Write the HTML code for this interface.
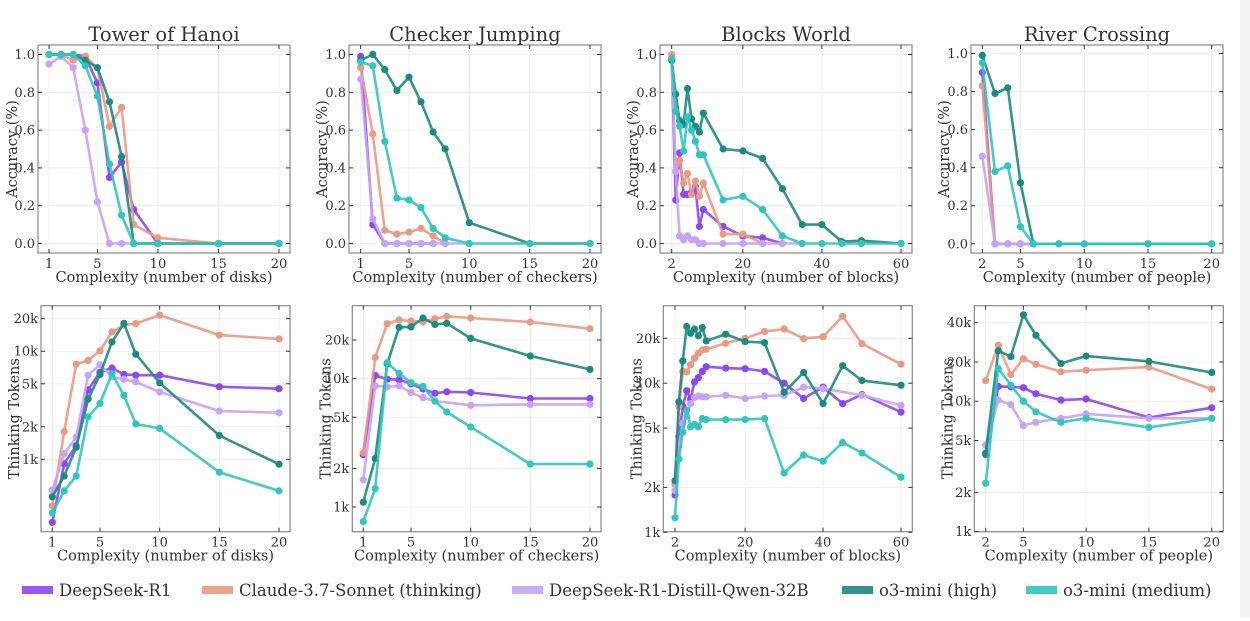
<!DOCTYPE html>
<html><head><meta charset="utf-8">
<style>
body{margin:0;background:#fff;width:1250px;height:617px;overflow:hidden;font-family:"DejaVu Serif","Liberation Serif",serif;}
svg text{font-family:"DejaVu Serif","Liberation Serif",serif;fill:#333;}
</style></head>
<body>
<svg id="chart" width="1250" height="617" xmlns="http://www.w3.org/2000/svg">
<rect x="1240" y="0" width="10" height="617" fill="#f2f2f2"/>
</svg>
<script>
const seriesNames = ["DeepSeek-R1","Claude-3.7-Sonnet (thinking)","DeepSeek-R1-Distill-Qwen-32B","o3-mini (high)","o3-mini (medium)"];
const seriesColors = ["#8d45f5","#eb9980","#c6a3f7","#1b8a80","#2ec6bf"];
const seriesKeys = ["r1","claude","distill","o3high","o3med"];

// x categories
const hanoiX = [1,2,3,4,5,6,7,8,10,15,20];
const checkerX = [1,2,3,4,5,6,7,8,10,15,20];
const blocksX = [2,3,4,5,6,7,8,9,10,15,20,25,30,35,40,45,50,60];
const riverX = [2,3,4,5,6,8,10,15,20];

// accuracy
const hanoiAccR1 = [1,1,1,0.99,0.85,0.35,0.43,0.18,0,0,0];
const hanoiAccClaude = [1,1,0.97,0.99,0.93,0.62,0.72,0.10,0.03,0,0];
const hanoiAccDistill = [0.95,0.99,0.93,0.60,0.22,0,0,0,0,0,0];
const hanoiAccO3High = [1,1,1,0.97,0.93,0.75,0.46,0,0,0,0];
const hanoiAccO3Med = [1,1,1,0.94,0.78,0.42,0.15,0,0,0,0];

const checkerAccR1 = [0.99,0.10,0,0,0,0,0,null,null,null,null];
const checkerAccClaude = [0.93,0.58,0.07,0.05,0.06,0.08,0.04,0,null,null,null];
const checkerAccDistill = [0.87,0.13,0,0,0,0,0,0,0,null,null];
const checkerAccO3High = [0.97,1.0,0.92,0.81,0.88,0.75,0.59,0.50,0.11,0,0];
const checkerAccO3Med = [0.96,0.94,0.54,0.24,0.23,0.19,0.08,0.03,0,0,0];

const blocksAccR1 = [0.97,0.23,0.48,0.26,0.26,0.27,0.30,0.09,0.18,0.09,0.04,0.03,0,null,null,null,null,null];
const blocksAccClaude = [1.0,0.38,0.44,0.32,0.37,0.26,0.33,0.25,0.32,0.05,0.05,0,null,null,null,null,null,null];
const blocksAccDistill = [0.97,0.38,0.04,0.02,0.04,0.02,0.02,0,0,0,0,0,0,0,null,null,null,null];
const blocksAccO3High = [0.97,0.79,0.65,0.63,0.82,0.66,0.62,0.59,0.69,0.50,0.49,0.45,0.29,0.10,0.10,0.01,0.015,0];
const blocksAccO3Med = [0.98,0.70,0.62,0.49,0.67,0.60,0.54,0.47,0.47,0.23,0.25,0.18,0.04,0,0,0,0,0];

const riverAccR1 = [0.90,0,0,0,0,null,null,null,null];
const riverAccClaude = [0.83,0,0,0,0,null,null,null,null];
const riverAccDistill = [0.46,0,0,0,0,null,null,null,null];
const riverAccO3High = [0.99,0.79,0.82,0.32,0,0,0,0,0];
const riverAccO3Med = [0.95,0.38,0.41,0.09,0,0,0,0,0];

// thinking tokens
const hanoiTokR1 = [261,910,1340,4400,6400,7000,6100,6000,6000,4700,4500];
const hanoiTokClaude = [372,1810,7600,8200,10100,15100,17500,18000,21600,14100,13000];
const hanoiTokDistill = [520,1130,1600,6000,7500,5800,5500,5200,4200,2800,2700];
const hanoiTokO3High = [450,700,1290,3600,6100,12200,18100,9400,5100,1660,900];
const hanoiTokO3Med = [320,510,700,2470,3300,6200,3900,2120,1930,760,510];

const checkerTokR1 = [2560,10600,9900,9800,9100,8300,7700,7900,7800,7000,7000];
const checkerTokClaude = [2650,14600,26800,28700,28100,27600,29300,30600,29700,27600,24500];
const checkerTokDistill = [1630,8800,8600,8800,7800,7100,6700,null,6200,6300,6300];
const checkerTokO3High = [1090,2390,13000,25100,25300,29700,26400,27000,20600,15000,11800];
const checkerTokO3Med = [770,1390,13300,11000,9300,8700,6700,5500,4200,2160,2160];

const blocksTokR1 = [1780,4400,7000,8900,7800,10200,10900,12000,12900,12600,12500,12000,10000,7900,9400,7300,8400,6400];
const blocksTokClaude = [2100,7000,12000,11900,13300,14700,15900,16700,16900,18500,20000,22200,23100,19900,20500,28100,18400,13400];
const blocksTokDistill = [1900,3800,5400,6000,7300,8000,8200,8100,8100,8300,7900,8200,8300,9400,9200,null,8300,7100];
const blocksTokO3High = [2220,7500,14100,24000,21600,23100,20800,23600,19200,21300,19000,18700,8700,11800,7300,13100,10400,9700];
const blocksTokO3Med = [1250,3100,4700,6600,5100,5300,5100,5800,5700,5700,5700,5800,2500,3300,3000,4000,3400,2340];

const riverTokR1 = [3900,13000,12900,12700,11400,10200,10400,7500,8900];
const riverTokClaude = [14400,26900,16000,21200,19200,16800,17300,18300,12400];
const riverTokDistill = [4600,10200,9400,6500,6900,7400,8000,7400,7400];
const riverTokO3High = [4000,24400,22000,46000,32000,19500,22200,20200,16600];
const riverTokO3Med = [2350,17800,13300,10000,8300,6900,7400,6300,7400];

const accTicks = [0,0.2,0.4,0.6,0.8,1.0];
const accTickLabels = ["0.0","0.2","0.4","0.6","0.8","1.0"];
const tokTicks = [1000,2000,5000,10000,20000];
const tokTickLabels = ["1k","2k","5k","10k","20k"];
const riverTokTicks = [1000,2000,5000,10000,20000,40000];
const riverTokTickLabels = ["1k","2k","5k","10k","20k","40k"];

const svg = document.getElementById('chart');
const NS = "http://www.w3.org/2000/svg";
function mk(tag, attrs, parent){const e=document.createElementNS(NS,tag);for(const k in attrs)e.setAttribute(k,attrs[k]);(parent||svg).appendChild(e);return e;}

function linScale(d0,d1,r0,r1){return v=>r0+(v-d0)*(r1-r0)/(d1-d0);}
function logScale(d0,d1,r0,r1){const a=Math.log10(d0),b=Math.log10(d1);return v=>r0+(Math.log10(v)-a)*(r1-r0)/(b-a);}

function drawPanel(p){
  const g = mk('g',{});
  
  
  p.xTicks.forEach(t=>{const x=p.sx(t);const l=mk('line',{x1:x,x2:x,y1:p.top,y2:p.bottom,stroke:'#ececec','stroke-width':0.8},g);
    });
  p.yTicks.forEach(t=>{const y=p.sy(t);if(y<p.top-0.5||y>p.bottom+0.5)return;const l=mk('line',{x1:p.left,x2:p.right,y1:y,y2:y,stroke:'#ececec','stroke-width':0.8},g);
    });
  p.series.forEach((vals,si)=>{
    const sg = mk('g',{},g);
    
    
    let d='';let pen=false;
    vals.forEach((v,i)=>{ if(v===null||v===undefined){return;} const x=p.sx(p.xs[i]),y=p.sy(v); d+=(pen?'L':'M')+x.toFixed(1)+' '+y.toFixed(1)+' '; pen=true;});
    const path=mk('path',{d:d,fill:'none',stroke:seriesColors[si],'stroke-width':2.6,'stroke-opacity':0.9,'stroke-linejoin':'round'},sg);
    
    
    vals.forEach((v,i)=>{ if(v===null||v===undefined)return;
      const c=mk('circle',{cx:p.sx(p.xs[i]).toFixed(1),cy:p.sy(v).toFixed(1),r:3.6,fill:seriesColors[si]},sg);
      
      });
  });
  const fr=mk('rect',{x:p.left,y:p.top,width:p.right-p.left,height:p.bottom-p.top,fill:'none',stroke:'#888','stroke-width':1.2},g);
  
  p.xTicks.forEach((t,i)=>{const x=p.sx(t);
    mk('line',{x1:x,x2:x,y1:p.bottom,y2:p.bottom-4,stroke:'#333'},g);
    mk('line',{x1:x,x2:x,y1:p.top,y2:p.top+4,stroke:'#333'},g);
    const tx=mk('text',{x:x,y:p.bottom+15,'text-anchor':'middle','font-size':13},g);tx.textContent=p.xTicks[i];
    });
  p.yTicks.forEach((t,i)=>{const y=p.sy(t);
    mk('line',{x1:p.left,x2:p.left+4,y1:y,y2:y,stroke:'#333'},g);
    mk('line',{x1:p.right,x2:p.right-4,y1:y,y2:y,stroke:'#333'},g);
    const tx=mk('text',{x:p.left-3,y:y+4.5,'text-anchor':'end','font-size':13},g);tx.textContent=p.yLabels[i];
    });
  const xl=mk('text',{x:(p.left+p.right)/2,y:p.bottom+29,'text-anchor':'middle','font-size':14.5},g);xl.textContent=p.xlabel;
  
  const ylx=Math.max(p.left-22,17), yly=(p.top+p.bottom)/2;
  const yl=mk('text',{x:ylx,y:yly,'text-anchor':'middle','font-size':14.5,transform:`rotate(-90 ${ylx} ${yly})`},g);yl.textContent=p.ylabel;
  
  if(p.title){const tt=mk('text',{x:(p.left+p.right)/2,y:41,'text-anchor':'middle','font-size':19.5},g);tt.textContent=p.title;
    }
}

const T=45,B=253;
const panels=[
 {name:'hanoi-accuracy',title:'Tower of Hanoi',left:38,right:290,top:T,bottom:B,sx:linScale(1,20,49,279),sy:linScale(0,1,243.5,54.5),xs:hanoiX,
  series:[hanoiAccR1,hanoiAccClaude,hanoiAccDistill,hanoiAccO3High,hanoiAccO3Med],xTicks:[1,5,10,15,20],yTicks:accTicks,yLabels:accTickLabels,xlabel:'Complexity (number of disks)',ylabel:'Accuracy (%)'},
 {name:'checker-accuracy',title:'Checker Jumping',left:349,right:601,top:T,bottom:B,sx:linScale(1,20,360.7,590),sy:linScale(0,1,243.5,54.5),xs:checkerX,
  series:[checkerAccR1,checkerAccClaude,checkerAccDistill,checkerAccO3High,checkerAccO3Med],xTicks:[1,5,10,15,20],yTicks:accTicks,yLabels:accTickLabels,xlabel:'Complexity (number of checkers)',ylabel:'Accuracy (%)'},
 {name:'blocks-accuracy',title:'Blocks World',left:660,right:912,top:T,bottom:B,sx:linScale(2,60,671.7,901),sy:linScale(0,1,243.5,54.5),xs:blocksX,
  series:[blocksAccR1,blocksAccClaude,blocksAccDistill,blocksAccO3High,blocksAccO3Med],xTicks:[2,20,40,60],yTicks:accTicks,yLabels:accTickLabels,xlabel:'Complexity (number of blocks)',ylabel:'Accuracy (%)'},
 {name:'river-accuracy',title:'River Crossing',left:971,right:1223,top:T,bottom:B,sx:linScale(2,20,982.3,1211.7),sy:linScale(0,1,243.8,53.5),xs:riverX,
  series:[riverAccR1,riverAccClaude,riverAccDistill,riverAccO3High,riverAccO3Med],xTicks:[2,5,10,15,20],yTicks:accTicks,yLabels:accTickLabels,xlabel:'Complexity (number of people)',ylabel:'Accuracy (%)'},
 {name:'hanoi-tokens',left:41,right:290,top:305.7,bottom:531.7,sx:linScale(1,20,52.3,279),sy:logScale(1000,20000,459.3,318.7),xs:hanoiX,
  series:[hanoiTokR1,hanoiTokClaude,hanoiTokDistill,hanoiTokO3High,hanoiTokO3Med],xTicks:[1,5,10,15,20],yTicks:tokTicks,yLabels:tokTickLabels,xlabel:'Complexity (number of disks)',ylabel:'Thinking Tokens'},
 {name:'checker-tokens',left:352.3,right:601,top:305.7,bottom:531.7,sx:linScale(1,20,363.3,590),sy:logScale(1000,20000,507,340),xs:checkerX,
  series:[checkerTokR1,checkerTokClaude,checkerTokDistill,checkerTokO3High,checkerTokO3Med],xTicks:[1,5,10,15,20],yTicks:tokTicks,yLabels:tokTickLabels,xlabel:'Complexity (number of checkers)',ylabel:'Thinking Tokens'},
 {name:'blocks-tokens',left:663.3,right:912.3,top:305.7,bottom:531.7,sx:linScale(2,60,675,901),sy:logScale(1000,20000,532.3,338.3),xs:blocksX,
  series:[blocksTokR1,blocksTokClaude,blocksTokDistill,blocksTokO3High,blocksTokO3Med],xTicks:[2,20,40,60],yTicks:tokTicks,yLabels:tokTickLabels,xlabel:'Complexity (number of blocks)',ylabel:'Thinking Tokens'},
 {name:'river-tokens',left:974.3,right:1223.3,top:305.7,bottom:531.7,sx:linScale(2,20,985.7,1211.7),sy:logScale(1000,40000,531.7,322.7),xs:riverX,
  series:[riverTokR1,riverTokClaude,riverTokDistill,riverTokO3High,riverTokO3Med],xTicks:[2,5,10,15,20],yTicks:riverTokTicks,yLabels:riverTokTickLabels,xlabel:'Complexity (number of people)',ylabel:'Thinking Tokens'}
];
panels.forEach(drawPanel);

const legendX=[22,202,512,842,1026];
const lg=mk('g',{});


seriesNames.forEach((n,i)=>{
  const eg=mk('g',{},lg);
  
  
  mk('rect',{x:legendX[i],y:586,width:31,height:8,fill:seriesColors[i],opacity:0.9},eg);
  const t=mk('text',{x:legendX[i]+37,y:596,'font-size':16.5},eg);t.textContent=n;
});
</script>
</body></html>
